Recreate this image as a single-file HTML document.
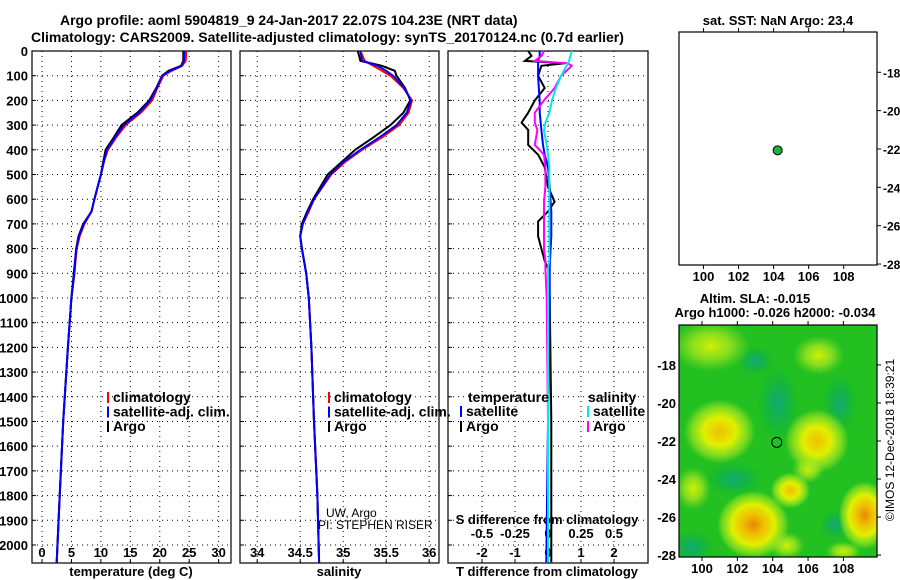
<!DOCTYPE html>
<html><head><meta charset="utf-8"><style>
body{margin:0;background:#fff;}
svg{display:block;font-family:"Liberation Sans",sans-serif;}
.b{font-weight:bold;font-size:13px;}
.l{font-weight:bold;font-size:14px;}
.s{font-weight:bold;font-size:12px;}
.t{font-weight:bold;font-size:14px;}
</style></head><body>
<svg id="c" width="900" height="580" viewBox="0 0 900 580">
<defs>
<radialGradient id="gy"><stop offset="0" stop-color="#f0c000"/><stop offset="0.45" stop-color="#e0f000"/><stop offset="0.75" stop-color="#a8e820" stop-opacity="0.7"/><stop offset="1" stop-color="#a8e820" stop-opacity="0"/></radialGradient>
<radialGradient id="go"><stop offset="0" stop-color="#e88800"/><stop offset="0.3" stop-color="#f0c000"/><stop offset="0.6" stop-color="#e0f000"/><stop offset="0.85" stop-color="#a8e820" stop-opacity="0.6"/><stop offset="1" stop-color="#a8e820" stop-opacity="0"/></radialGradient>
<radialGradient id="gl"><stop offset="0" stop-color="#d0f000"/><stop offset="0.5" stop-color="#a0e420" stop-opacity="0.8"/><stop offset="1" stop-color="#80dc20" stop-opacity="0"/></radialGradient>
<radialGradient id="gt"><stop offset="0" stop-color="#10a878"/><stop offset="0.5" stop-color="#10b050" stop-opacity="0.7"/><stop offset="1" stop-color="#10b830" stop-opacity="0"/></radialGradient>
<clipPath id="mapclip"><rect x="679" y="325" width="198" height="232"/></clipPath>
</defs>
<text class="t" x="60" y="25">Argo profile: aoml 5904819_9 24-Jan-2017 22.07S 104.23E (NRT data)</text>
<text class="t" x="31" y="42">Climatology: CARS2009. Satellite-adjusted climatology: synTS_20170124.nc (0.7d earlier)</text>
<g id="g"></g>
</svg>
<script>
// ---- data ----
const depthTicks=[0,100,200,300,400,500,600,700,800,900,1000,1100,1200,1300,1400,1500,1600,1700,1800,1900,2000];
const tempTicks=[0,5,10,15,20,25,30];
const salTicks=[34,34.5,35,35.5,36];
const salTickLabels=["34","34.5","35","35.5","36"];
const tdiffTicks=[-2,-1,0,1,2];
const sdiffTicks=[-0.5,-0.25,0,0.25,0.5];
const sdiffTickLabels=["-0.5","-0.25","0","0.25","0.5"];
const depths=[0,40,60,80,100,150,200,250,300,350,400,450,500,600,650,700,750,800,900,1000,1200,1500,1800,2070];
const tempArgo=[24,24,23.6,21.5,20.4,19.4,18.2,16.2,13.5,12.2,10.8,10.4,10.0,8.9,8.4,7.0,6.2,5.8,5.4,5.0,4.4,3.6,3.0,2.5];
const tempClim=[24.5,24.4,23.8,22.0,20.6,19.6,18.7,16.8,14.2,12.6,11.2,10.5,10.0,8.9,8.4,7.2,6.4,5.9,5.5,5.0,4.4,3.6,3.0,2.5];
const tempSat=[24.2,24.1,23.7,21.8,20.4,19.5,18.4,16.5,13.9,12.4,11.0,10.5,10.0,8.9,8.4,7.1,6.3,5.8,5.5,5.0,4.4,3.6,3.0,2.5];
const salArgo=[35.17,35.2,35.45,35.6,35.62,35.72,35.78,35.7,35.55,35.35,35.14,34.98,34.82,34.65,34.58,34.52,34.5,34.52,34.57,34.6,34.63,34.66,34.7,34.72];
const salClim=[35.2,35.25,35.35,35.45,35.55,35.7,35.8,35.76,35.65,35.45,35.22,35.02,34.86,34.66,34.6,34.53,34.5,34.52,34.57,34.6,34.63,34.66,34.7,34.72];
const salSat=[35.2,35.22,35.4,35.5,35.58,35.71,35.79,35.74,35.62,35.42,35.2,35.0,34.85,34.66,34.59,34.53,34.5,34.52,34.57,34.6,34.63,34.66,34.7,34.72];
const diffDepths=[0,20,40,50,60,100,150,200,250,290,320,380,420,470,550,610,650,690,750,800,850,880,1000,1500,2070];
const tdiffArgo=[-0.6,-0.5,-0.7,0.5,-0.2,-0.3,-0.1,-0.4,-0.6,-0.8,-0.6,-0.6,-0.3,-0.1,0,0.2,0,-0.3,-0.3,-0.2,-0.1,0,0.05,0.1,0.1];
const tdiffSat=[-0.25,-0.25,-0.3,-0.3,-0.3,-0.3,-0.28,-0.25,-0.25,-0.22,-0.2,-0.15,-0.1,0,0.05,0.08,0.1,0.1,0.1,0.08,0.06,0.05,0.05,0,-0.05];
const sdiffArgo=[-0.03,-0.05,-0.1,0.15,0.18,0.1,0.05,-0.03,-0.1,-0.1,-0.08,-0.1,-0.03,-0.02,-0.02,-0.03,-0.03,-0.03,-0.03,-0.03,-0.02,-0.02,-0.01,0,0];
const sdiffSat=[0.18,0.17,0.16,0.15,0.14,0.1,0.06,0.03,0.01,-0.02,-0.03,-0.01,0,0.01,0.01,0.01,0.01,0.01,0.01,0.01,0.01,0,0,0,0];
const lonTicks=[100,102,104,106,108];
const latTicks=[-18,-20,-22,-24,-26,-28];
const profLon=[104.23];
const profLat=[-22.07];
// ---- layout ----
const NS="http://www.w3.org/2000/svg";
const G=document.getElementById('g');
function el(tag,attrs,parent){const e=document.createElementNS(NS,tag);for(const k in attrs)e.setAttribute(k,attrs[k]);(parent||G).appendChild(e);return e;}
const yTop=51,yBot=563,dmax=2073;
const yD=d=>yTop+(yBot-yTop)*d/dmax;
const panels=[{x0:32,x1:231,v0:-1.7,v1:32.1},{x0:240,x1:439,v0:33.8,v1:36.114},{x0:448,x1:648,v0:-3.03,v1:3.03}];
const xS=(p,v)=>p.x0+(p.x1-p.x0)*(v-p.v0)/(p.v1-p.v0);
const sx=v=>xS(panels[2],v*4);
function path(p,xs,ds,color,name,fn){
  let d='';xs.forEach((v,i)=>{d+=(i?'L':'M')+(fn?fn(v):xS(p,v)).toFixed(1)+','+yD(ds[i]).toFixed(1);});
  const e=el('path',{d:d,fill:'none',stroke:color,'stroke-width':2});
  
  
}
function txt(x,y,s,cls,anchor,name,extra){
  const e=el('text',Object.assign({x:x,y:y,class:cls||'b','text-anchor':anchor||'start'},extra||{}));
  e.textContent=s;
  
  
  return e;
}
depthTicks.forEach(d=>{txt(28,yD(d)+5,String(d),'b','end','depth-tick-label');});
panels.forEach((p,pi)=>{
  const fr=el('rect',{x:p.x0,y:yTop,width:p.x1-p.x0,height:yBot-yTop,fill:'none',stroke:'#000','stroke-width':1.2});
  
  
  depthTicks.forEach(d=>{if(d>0){const l=el('line',{x1:p.x0,x2:p.x1,y1:yD(d),y2:yD(d),stroke:'#000','stroke-dasharray':'1,4','stroke-width':1});
    
    
    el('line',{x1:p.x0,x2:p.x0+4,y1:yD(d),y2:yD(d),stroke:'#000'});}});
  const vt=[tempTicks,salTicks,tdiffTicks][pi];
  vt.forEach(v=>{const x=xS(p,v);const l=el('line',{x1:x,x2:x,y1:yTop,y2:yBot,stroke:'#000','stroke-dasharray':'1,4','stroke-width':1});
    
    
    el('line',{x1:x,x2:x,y1:yBot,y2:yBot-4,stroke:'#000'});});
});
tempTicks.forEach(v=>txt(xS(panels[0],v),557,String(v),'b','middle','temperature-tick-label'));
salTicks.forEach((v,i)=>txt(xS(panels[1],v),557,salTickLabels[i],'b','middle','salinity-tick-label'));
tdiffTicks.forEach(v=>txt(xS(panels[2],v),557,String(v),'b','middle','tdiff-tick-label'));
sdiffTicks.forEach((v,i)=>txt(sx(v),538,sdiffTickLabels[i],'b','middle','sdiff-tick-label'));
txt(131,576,'temperature (deg C)','b','middle','temperature-axis-title');
txt(339,576,'salinity','b','middle','salinity-axis-title');
txt(547,576,'T difference from climatology','b','middle','tdiff-axis-title');
txt(547,524,'S difference from climatology','b','middle','sdiff-axis-title');
path(panels[0],tempClim,depths,'#ff0000','temperature-climatology-line');
path(panels[0],tempArgo,depths,'#000000','temperature-argo-line');
path(panels[0],tempSat,depths,'#0000ff','temperature-satellite-line');
path(panels[1],salClim,depths,'#ff0000','salinity-climatology-line');
path(panels[1],salArgo,depths,'#000000','salinity-argo-line');
path(panels[1],salSat,depths,'#0000ff','salinity-satellite-line');
path(panels[2],tdiffArgo,diffDepths,'#000000','tdiff-argo-line');
path(panels[2],tdiffSat,diffDepths,'#0000ff','tdiff-satellite-line');
path(panels[2],sdiffArgo,diffDepths,'#ff00ff','sdiff-argo-line',sx);
path(panels[2],sdiffSat,diffDepths,'#00e8e8','sdiff-satellite-line',sx);
function leg(x,y,c,s,name){const r=el('rect',{x:x,y:y-10,width:2,height:11,fill:c});txt(x+6,y,s,'l','start',name);}
[[107,'climatology','#ff0000'],[107,'satellite-adj. clim.','#0000ff'],[107,'Argo','#000']].forEach((a,i)=>leg(a[0],402+i*14.5,a[2],a[1],'temp-legend-entry'));
[[328,'climatology','#ff0000'],[328,'satellite-adj. clim.','#0000ff'],[328,'Argo','#000']].forEach((a,i)=>leg(a[0],402+i*14.5,a[2],a[1],'sal-legend-entry'));
txt(468,402,'temperature','l','start','diff-legend-temperature-header');
txt(588,402,'salinity','l','start','diff-legend-salinity-header');
leg(460,416,'#0000ff','satellite','diff-legend-tsat');
leg(460,431,'#000','Argo','diff-legend-targo');
leg(587,416,'#00e8e8','satellite','diff-legend-ssat');
leg(587,431,'#ff00ff','Argo','diff-legend-sargo');
txt(326,517,'UW, Argo','x', 'start','data-source-text',{'font-size':'12px'});
txt(318,529,'PI: STEPHEN RISER','x', 'start','pi-text',{'font-size':'12px'});
const maps=[{x0:679,x1:877,y0:32,y1:265,lon0:98.6,lon1:109.9,lat0:-15.9,lat1:-28.05,left:false},{x0:679,x1:877,y0:325,y1:557,lon0:98.7,lon1:109.9,lat0:-15.9,lat1:-28.1,left:true}];
const mx=(m,v)=>m.x0+(m.x1-m.x0)*(v-m.lon0)/(m.lon1-m.lon0);
const my=(m,v)=>m.y0+(m.y1-m.y0)*(v-m.lat0)/(m.lat1-m.lat0);
const hm=maps[1];
const bg=el('rect',{x:hm.x0,y:hm.y0,width:hm.x1-hm.x0,height:hm.y1-hm.y0,fill:'#22c020'});


const blobs=[[104.3,-20,22,40,'gt'],[107.8,-20,18,30,'gt'],[101.8,-24,30,18,'gt'],[107.5,-26.4,16,16,'gt'],[99.4,-27.6,24,18,'gt'],[103,-17.8,20,16,'gt'],
[100.5,-17,40,26,'gl'],[106.6,-17.5,26,20,'gl'],[99.5,-24.5,18,22,'gl'],[104.8,-27.5,18,14,'gl'],[108,-27.8,18,10,'gl'],[106,-23.5,16,14,'gl'],
[101,-21.5,36,32,'gy'],[106.5,-22,32,32,'gy'],[105,-24.6,20,18,'gy'],[102.9,-26.4,36,34,'go'],[109.2,-25.9,26,34,'go']];
const cg=el('g',{'clip-path':'url(#mapclip)'});
blobs.forEach(b=>{el('ellipse',{cx:mx(hm,b[0]),cy:my(hm,b[1]),rx:b[2],ry:b[3],fill:'url(#'+b[4]+')'},cg);});
maps.forEach((m,mi)=>{
  const fr=el('rect',{x:m.x0,y:m.y0,width:m.x1-m.x0,height:m.y1-m.y0,fill:'none',stroke:'#000','stroke-width':1.2});
  
  
  lonTicks.forEach(v=>{const x=mx(m,v);el('line',{x1:x,x2:x,y1:m.y1,y2:m.y1+4,stroke:'#000'});el('line',{x1:x,x2:x,y1:m.y0,y2:m.y0-4,stroke:'#000'});txt(x,m.y1+16,String(v),'b','middle','map-lon-label');});
  latTicks.forEach(v=>{const y=my(m,v);el('line',{x1:m.x1,x2:m.x1+4,y1:y,y2:y,stroke:'#000'});
    if(m.left) txt(m.x0-3,y+5,String(v),'b','end','map-lat-label');
    else txt(m.x1+6,y+5,String(v),'s','start','map-lat-label');});
});
profLon.forEach((lo,i)=>{
  const c1=el('circle',{cx:mx(maps[0],lo),cy:my(maps[0],profLat[i]),r:4.5,fill:'#20b040',stroke:'#000','stroke-width':1});
  
  
  const c2=el('circle',{cx:mx(maps[1],lo),cy:my(maps[1],profLat[i]),r:5,fill:'none',stroke:'#000','stroke-width':1});
  
  
});
txt(778,25,'sat. SST: NaN Argo: 23.4','b','middle','sst-map-title');
txt(755,303,'Altim. SLA: -0.015','b','middle','sla-map-title');
txt(775,317,'Argo h1000: -0.026 h2000: -0.034','b','middle','sla-argo-heights');
txt(0,0,'©IMOS 12-Dec-2018 18:39:21','x','middle','imos-timestamp',{'font-size':'12px',transform:'translate(894,440) rotate(-90)'});
</script>
</body></html>
